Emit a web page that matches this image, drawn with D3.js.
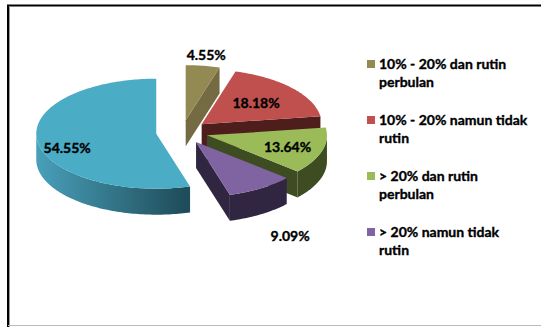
<!DOCTYPE html>
<html><head><meta charset="utf-8">
<script src="https://cdn.jsdelivr.net/npm/d3@7"></script>
<style>body{margin:0;background:#fff}svg{display:block}</style>
</head><body>
<svg id="c" width="541" height="327"></svg>
<script>
// ---- data ----
const categories = ["10% - 20% dan rutin perbulan", "10% - 20% namun tidak rutin", "> 20% dan rutin perbulan", "> 20% namun tidak rutin", "Lainnya"];
const values = [4.55, 18.18, 13.64, 9.09, 54.55];
const valueLabels = ["4.55%", "18.18%", "13.64%", "9.09%", "54.55%"];
const legendLines = [["10% - 20% dan rutin", "perbulan"], ["10% - 20% namun tidak", "rutin"], ["> 20% dan rutin", "perbulan"], ["> 20% namun tidak", "rutin"]];
const topColors = ["#938953", "#C0504D", "#9BBB59", "#8064A2", "#4BACC6"];
const wallColors = ["#746B43", "#4E1E1D", "#3E4C22", "#312642", "url(#blueWall)"];
const labelRadius = [1.2, 0.6, 0.7, 1.45, 0.75];
const labelDrop = [0, 0, 0, 1, 0.3];

const W = 541, H = 327;
const svg = d3.select("#c");
svg.append("rect").attr("width", W).attr("height", H).attr("fill", "#fff");

const defs = svg.append("defs");
const g1 = defs.append("linearGradient").attr("id", "blueWall")
  .attr("gradientUnits", "userSpaceOnUse").attr("x1", 30).attr("x2", 185).attr("y1", 0).attr("y2", 0);
g1.append("stop").attr("offset", 0).attr("stop-color", "#4AA3BE");
g1.append("stop").attr("offset", 1).attr("stop-color", "#1F4D5A");

// frame
svg.append("line").attr("x1", 7).attr("x2", W).attr("y1", 5.5).attr("y2", 5.5).attr("stroke", "#000").attr("stroke-width", 2);
svg.append("line").attr("x1", 8).attr("x2", 8).attr("y1", 5).attr("y2", H).attr("stroke", "#000").attr("stroke-width", 2);
svg.append("line").attr("x1", 9.5).attr("x2", 9.5).attr("y1", 6).attr("y2", H).attr("stroke", "#999").attr("stroke-width", 1);
svg.append("line").attr("x1", 8).attr("x2", W).attr("y1", 325.5).attr("y2", 325.5).attr("stroke", "#bbb").attr("stroke-width", 1);

// ---- 3D pie ----
const cx = 182, cy = 132, rx = 120, ry = 55, depth = 26, explode = 26;
const pie = d3.pie().sort(null).value(d => d);
const arcs = pie(values).map((a, i) => {
  const mid = (a.startAngle + a.endAngle) / 2;
  return Object.assign(a, {
    i, mid,
    ox: cx + explode * Math.sin(mid),
    oy: cy - explode * (ry / rx) * Math.cos(mid)
  });
});
const color = d3.scaleOrdinal().domain(categories).range(topColors);
const wall = d3.scaleOrdinal().domain(categories).range(wallColors);

function rim(a, ang, dz = 0, r = 1) {
  return [a.ox + r * rx * Math.sin(ang), a.oy - r * ry * Math.cos(ang) + dz];
}
function arcPts(a, s, e, dz) {
  const n = Math.max(2, Math.ceil((e - s) / 0.02));
  return d3.range(n + 1).map(k => rim(a, s + (e - s) * k / n, dz));
}
const line = d3.line();

const order = arcs.slice().sort((p, q) => p.oy - q.oy);
const gp = svg.append("g");
order.forEach(a => {
  const g = gp.append("g");
  const cat = categories[a.i];
  if (Math.sin(a.startAngle) < -1e-6) {
    const p = [[a.ox, a.oy], rim(a, a.startAngle), rim(a, a.startAngle, depth), [a.ox, a.oy + depth]];
    g.append("path").attr("d", line(p) + "Z").attr("fill", wall(cat));
  }
  if (Math.sin(a.endAngle) > 1e-6) {
    const p = [[a.ox, a.oy], rim(a, a.endAngle), rim(a, a.endAngle, depth), [a.ox, a.oy + depth]];
    g.append("path").attr("d", line(p) + "Z").attr("fill", wall(cat));
  }
  const s = Math.max(a.startAngle, Math.PI / 2), e = Math.min(a.endAngle, 3 * Math.PI / 2);
  if (e > s) {
    const p = arcPts(a, s, e, 0).concat(arcPts(a, s, e, depth).reverse());
    g.append("path").attr("d", line(p) + "Z").attr("fill", wall(cat));
  }
  const tp = [[a.ox, a.oy]].concat(arcPts(a, a.startAngle, a.endAngle, 0));
  g.append("path").attr("d", line(tp) + "Z").attr("fill", color(cat));
});

// labels
svg.append("g").selectAll("text").data(arcs).join("text")
  .attr("x", a => rim(a, a.mid, 0, labelRadius[a.i])[0])
  .attr("y", a => rim(a, a.mid, labelDrop[a.i] * depth, labelRadius[a.i])[1])
  .attr("text-anchor", "middle").attr("dominant-baseline", "central")
  .attr("font-family", "Lato, sans-serif").attr("font-weight", "bold").attr("font-size", 14)
  .attr("fill", "#000").attr("stroke", "#000").attr("stroke-width", 0.35)
  .text(a => valueLabels[a.i]);

// legend
const leg = svg.append("g").attr("transform", "translate(367,0)");
const items = leg.selectAll("g").data(legendLines).join("g")
  .attr("transform", (d, i) => `translate(0,${64 + i * 56})`);
items.append("rect").attr("x", 0).attr("y", -4).attr("width", 8).attr("height", 8)
  .attr("fill", (d, i) => color(categories[i]));
items.append("text").attr("x", 12).attr("y", 0)
  .attr("font-family", "Lato, sans-serif").attr("font-weight", "bold").attr("font-size", 14)
  .attr("fill", "#000").attr("stroke", "#000").attr("stroke-width", 0.35)
  .selectAll("tspan").data(d => d).join("tspan")
  .attr("x", 12).attr("dy", (d, k) => k === 0 ? "0.35em" : 18).text(d => d);
</script>
</body></html>
